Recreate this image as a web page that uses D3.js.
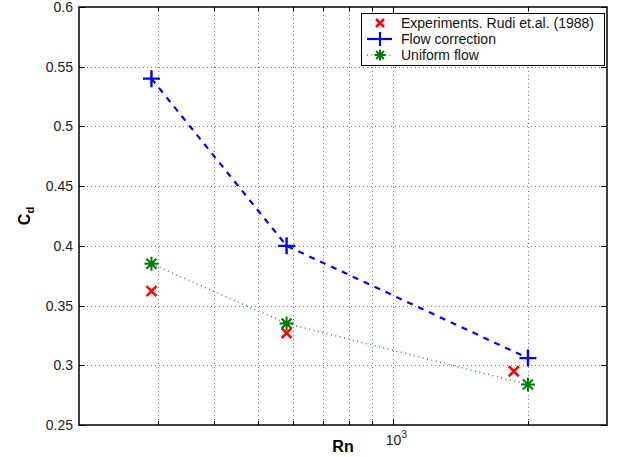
<!DOCTYPE html>
<html>
<head>
<meta charset="utf-8">
<script src="https://cdn.jsdelivr.net/npm/d3@7"></script>
<style>
  body { margin: 0; background: #fff; }
  svg { display: block; font-family: "Liberation Sans", Arial, Helvetica, sans-serif; }
</style>
</head>
<body>
<svg id="chart"></svg>
<script>
// data
const rnValues = [290, 580, 2000];
const expRn = [290, 580, 1860];
const expCd = [0.362, 0.327, 0.295];
const flowCd = [0.540, 0.400, 0.306];
const uniformCd = [0.385, 0.335, 0.284];
const yTicks = [0.25, 0.3, 0.35, 0.4, 0.45, 0.5, 0.55, 0.6];
const xGrid = [300, 400, 500, 600, 700, 800, 900, 1000, 2000];
const legendLabels = ["Experiments. Rudi et.al. (1988)", "Flow correction", "Uniform flow"];

const W = 627, H = 457;
const pLeft = 79, pRight = 607, pTop = 7, pBottom = 425;

const svg = d3.select('#chart').attr('width', W).attr('height', H);

const x = d3.scaleLog().domain([200, 3000]).range([pLeft, pRight]);
const y = d3.scaleLinear().domain([0.25, 0.6]).range([pBottom, pTop]);

// grid
const grid = svg.append('g')
    .attr('stroke', '#777')
    .attr('stroke-width', 1)
    .attr('stroke-dasharray', '1,3');
grid.selectAll('.gx').data(xGrid).enter().append('line')
    .attr('x1', d => Math.round(x(d)) + 0.5).attr('x2', d => Math.round(x(d)) + 0.5)
    .attr('y1', pTop).attr('y2', pBottom);
grid.selectAll('.gy').data(yTicks.slice(1, -1)).enter().append('line')
    .attr('x1', pLeft).attr('x2', pRight)
    .attr('y1', d => Math.round(y(d)) + 0.5).attr('y2', d => Math.round(y(d)) + 0.5);

// inside ticks on all four sides
const ticks = svg.append('g').attr('stroke', '#000').attr('stroke-width', 1);
xGrid.forEach(d => {
    const px = Math.round(x(d)) + 0.5;
    const len = d === 1000 ? 6 : 4;
    ticks.append('line').attr('x1', px).attr('x2', px).attr('y1', pBottom).attr('y2', pBottom - len);
    ticks.append('line').attr('x1', px).attr('x2', px).attr('y1', pTop).attr('y2', pTop + len);
});
yTicks.forEach(d => {
    const py = Math.round(y(d)) + 0.5;
    ticks.append('line').attr('x1', pLeft).attr('x2', pLeft + 6).attr('y1', py).attr('y2', py);
    ticks.append('line').attr('x1', pRight).attr('x2', pRight - 6).attr('y1', py).attr('y2', py);
});

// y tick labels
svg.append('g').selectAll('text').data(yTicks).enter().append('text')
    .attr('x', pLeft - 6).attr('y', d => y(d) + 5)
    .attr('text-anchor', 'end')
    .attr('font-size', 14)
    .attr('fill', '#222')
    .text(d => d3.format('')(d));

// x tick label 10^3
const xt = svg.append('text')
    .attr('x', x(1000) - 7).attr('y', 445)
    .attr('font-size', 14).attr('fill', '#222');
xt.append('tspan').text('10');
xt.append('tspan').attr('dy', -7).attr('font-size', 10).text('3');

// axis labels
svg.append('text')
    .attr('x', (pLeft + pRight) / 2).attr('y', 452)
    .attr('text-anchor', 'middle')
    .attr('font-size', 16).attr('font-weight', 'bold')
    .text('Rn');

const yl = svg.append('text')
    .attr('transform', 'translate(30, 216) rotate(-90)')
    .attr('text-anchor', 'middle')
    .attr('font-size', 16).attr('font-weight', 'bold');
yl.append('tspan').text('C');
yl.append('tspan').attr('dy', 4).attr('font-size', 11).text('d');

// lines
const flowData = rnValues.map((r, i) => ({ r: r, v: flowCd[i] }));
const uniData = rnValues.map((r, i) => ({ r: r, v: uniformCd[i] }));
const expData = expRn.map((r, i) => ({ r: r, v: expCd[i] }));

const line = d3.line().x(d => x(d.r)).y(d => y(d.v));

svg.append('path').datum(uniData)
    .attr('d', line)
    .attr('fill', 'none')
    .attr('stroke', '#3c9a3c')
    .attr('stroke-width', 1.6)
    .attr('stroke-dasharray', '1,3.5');

svg.append('path').datum(flowData)
    .attr('d', line)
    .attr('fill', 'none')
    .attr('stroke', '#0000ff')
    .attr('stroke-width', 2.2)
    .attr('stroke-dasharray', '6,6');

// marker helpers
function plus(g, cx, cy, s) {
    g.append('path').attr('d', `M${cx - s},${cy}H${cx + s}M${cx},${cy - s}V${cy + s}`);
}
function cross(g, cx, cy, s) {
    g.append('path').attr('d', `M${cx - s},${cy - s}L${cx + s},${cy + s}M${cx - s},${cy + s}L${cx + s},${cy - s}`);
}
function star(g, cx, cy, s) {
    const d = s * 0.72;
    g.append('path').attr('d',
        `M${cx - s},${cy}H${cx + s}M${cx},${cy - s}V${cy + s}` +
        `M${cx - d},${cy - d}L${cx + d},${cy + d}M${cx - d},${cy + d}L${cx + d},${cy - d}`);
}

const gExp = svg.append('g').attr('stroke', '#ff0000').attr('stroke-width', 2.5).attr('fill', 'none');
expData.forEach(d => cross(gExp, x(d.r), y(d.v), 5));

const gFlow = svg.append('g').attr('stroke', '#0000ff').attr('stroke-width', 2.4).attr('fill', 'none');
flowData.forEach(d => plus(gFlow, x(d.r), y(d.v), 8.5));

const gUni = svg.append('g').attr('stroke', '#007a00').attr('stroke-width', 2).attr('fill', 'none');
uniData.forEach(d => star(gUni, x(d.r), y(d.v), 7));

// frame
svg.append('rect')
    .attr('x', pLeft).attr('y', pTop)
    .attr('width', pRight - pLeft).attr('height', pBottom - pTop)
    .attr('fill', 'none').attr('stroke', '#000').attr('stroke-width', 1.5);

// legend
const lg = svg.append('g');
lg.append('rect')
    .attr('x', 361.5).attr('y', 13.5).attr('width', 243).attr('height', 52)
    .attr('fill', '#fff').attr('stroke', '#000').attr('stroke-width', 1);

const rowsY = [23, 39, 55];
legendLabels.forEach((t, i) => {
    lg.append('text')
        .attr('x', 401).attr('y', rowsY[i] + 5)
        .attr('font-size', 14).attr('fill', '#111')
        .text(t);
});
const lm = lg.append('g').attr('fill', 'none');
cross(lm.append('g').attr('stroke', '#ff0000').attr('stroke-width', 2.5), 380, rowsY[0], 4);
const lf = lm.append('g').attr('stroke', '#0000ff').attr('stroke-width', 2.2);
lf.append('line').attr('x1', 367).attr('x2', 392).attr('y1', rowsY[1]).attr('y2', rowsY[1]);
plus(lf, 380, rowsY[1], 7);
const lu = lm.append('g');
lu.append('line').attr('x1', 367).attr('x2', 392).attr('y1', rowsY[2]).attr('y2', rowsY[2])
    .attr('stroke', '#3c9a3c').attr('stroke-width', 1.6).attr('stroke-dasharray', '1,3.5');
star(lu.append('g').attr('stroke', '#007a00').attr('stroke-width', 2), 380, rowsY[2], 5.5);
</script>
</body>
</html>
